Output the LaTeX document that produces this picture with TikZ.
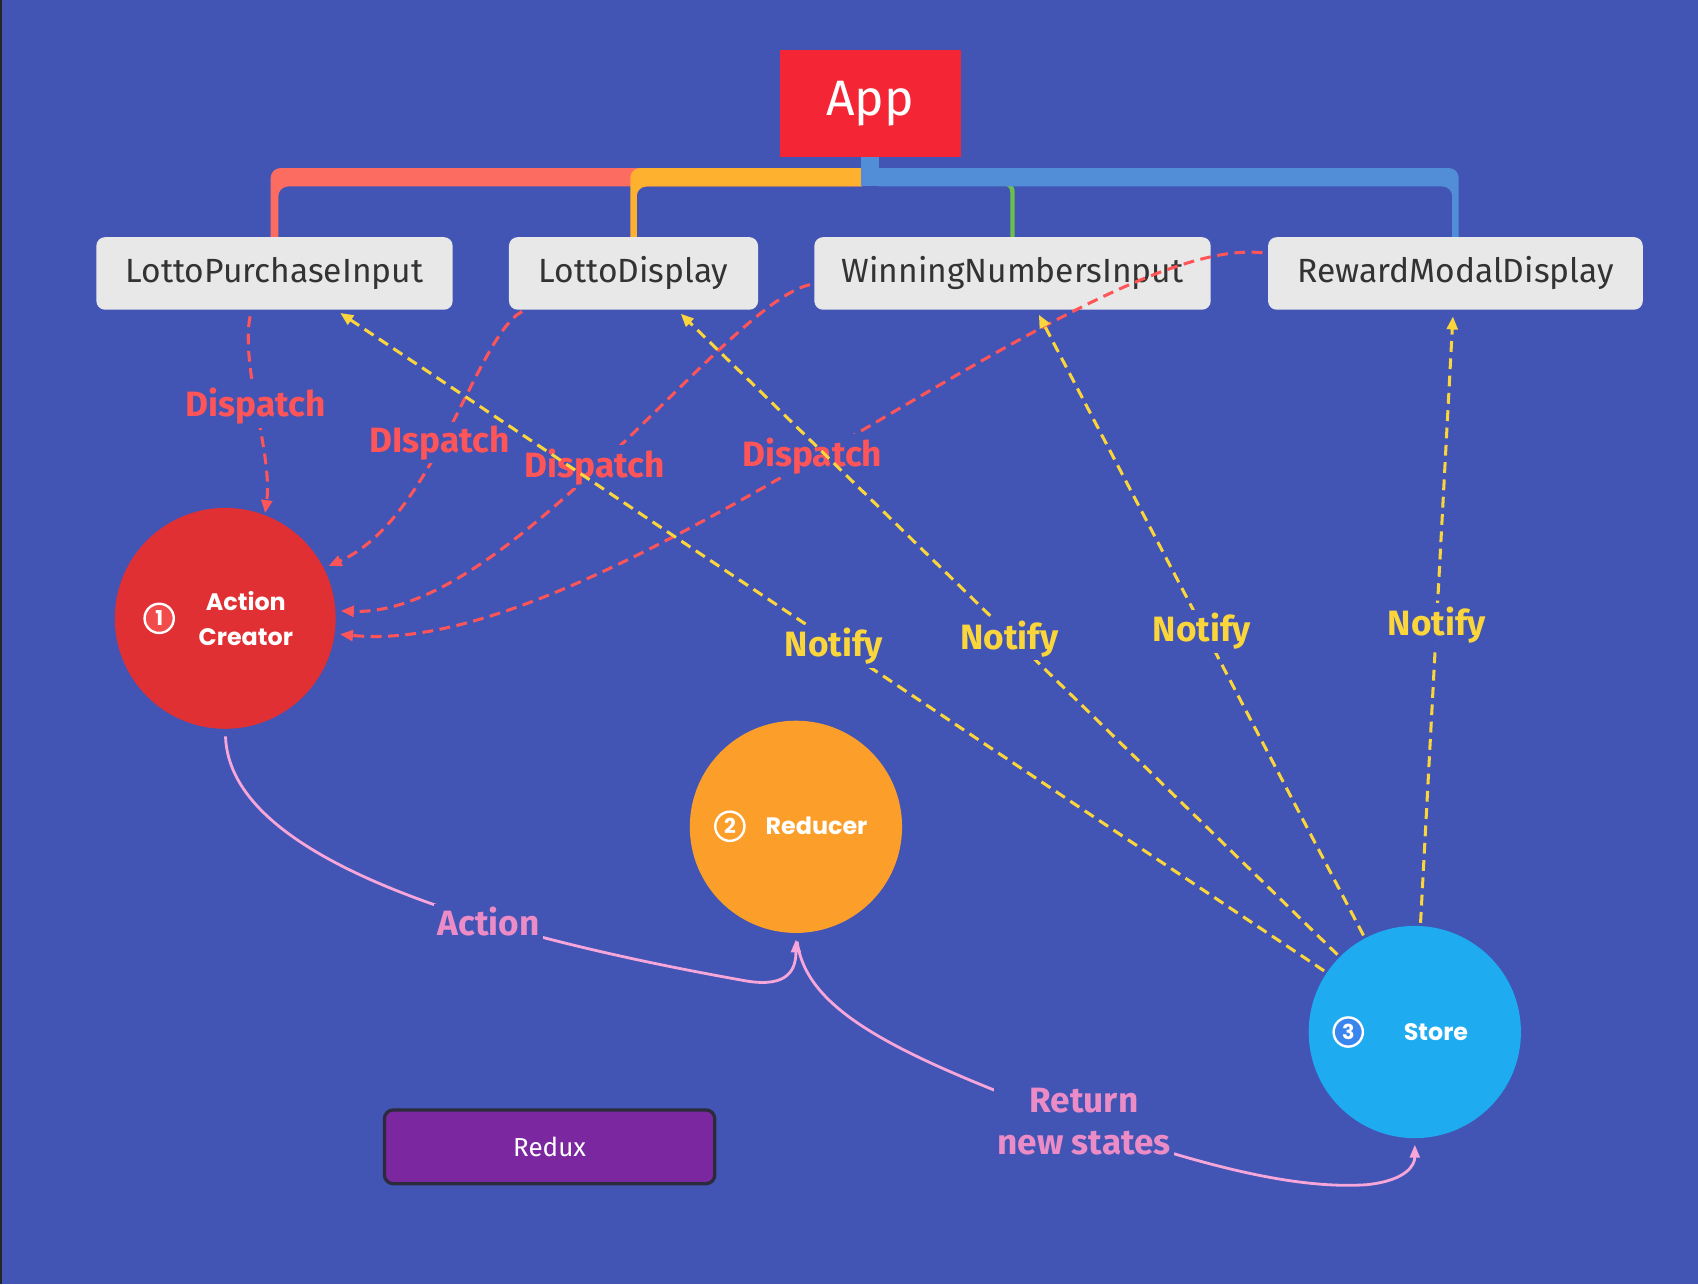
\documentclass[tikz,border=0pt]{standalone}
\usepackage{fontspec}
\setmainfont{Fira Sans}
\newfontfamily\circfont{Poppins}
\usetikzlibrary{arrows.meta,calc,backgrounds}

\definecolor{bgblue}{HTML}{4254B4}
\definecolor{appred}{HTML}{F42535}
\definecolor{brsalmon}{HTML}{FD6C60}
\definecolor{brorange}{HTML}{FDB12E}
\definecolor{brgreen}{HTML}{6BC04B}
\definecolor{brblue}{HTML}{528ED8}
\definecolor{boxgray}{HTML}{E8E8E8}
\definecolor{boxtext}{HTML}{333333}
\definecolor{acred}{HTML}{E13034}
\definecolor{acnum}{HTML}{F24B4B}
\definecolor{redorange}{HTML}{FC9F2A}
\definecolor{stblue}{HTML}{1EABF0}
\definecolor{stnum}{HTML}{3A86EF}
\definecolor{reduxpurple}{HTML}{7B28A0}
\definecolor{reduxedge}{HTML}{2B2B3C}
\definecolor{dispred}{HTML}{FF5558}
\definecolor{notifyyellow}{HTML}{FAD53C}
\definecolor{flowpink}{HTML}{F7A6DA}
\definecolor{flowtext}{HTML}{EC8CC6}

\tikzset{
  comp/.style={fill=boxgray, rounded corners=8pt, minimum height=67pt, text=boxtext, font=\fontsize{31}{36}\selectfont},
  stage/.style={circle, inner sep=0pt, outer sep=0pt},
  num/.style={circle, draw=white, line width=2.2pt, inner sep=0pt, minimum size=27pt, text=white, font=\circfont\bfseries\fontsize{19}{19}\selectfont},
  stagetext/.style={text=white, align=center, font=\circfont\bfseries\fontsize{22}{32}\selectfont},
  dispatch/.style={draw=dispred, line width=2.8pt, dash pattern=on 10pt off 6pt, -{Triangle[length=12pt,width=10pt]}},
  notify/.style={draw=notifyyellow, line width=2.8pt, dash pattern=on 10pt off 6pt, -{Triangle[length=12pt,width=10pt]}},
  flow/.style={draw=flowpink, line width=2.6pt, -{Triangle[length=12pt,width=9pt]}},
  lbl/.style={fill=bgblue, inner sep=3pt, font=\bfseries\fontsize{32.5}{38}\selectfont},
}

\begin{document}
\begin{tikzpicture}[x=1pt, y=-1pt]
    % App and components
    \node[fill=appred, minimum width=167pt, minimum height=99pt, text=white, font=\fontsize{46}{52}\selectfont] (app) at (803.5,95.5) {App};
    \node[comp, minimum width=329pt] (lpi) at (253.5,252.5) {LottoPurchaseInput};
    \node[comp, minimum width=230pt] (ld) at (585,252.5) {LottoDisplay};
    \node[comp, minimum width=366pt] (wni) at (935,252.5) {WinningNumbersInput};
    \node[comp, minimum width=346pt] (rmd) at (1344,252.5) {RewardModalDisplay};

    % background and branches
    \begin{scope}[on background layer]
        \fill[bgblue] (0,0) rectangle (1568,1186);
        \fill[black!85] (0,0) rectangle (2,1186);
        \fill[brsalmon, rounded corners=9pt] ($(lpi.north)+(-3.5,20)$) |- ($(app.south)+(0,10)$) -- ++(0,17) -| ($(lpi.north)+(3.5,20)$) -- cycle;
        \fill[brorange, rounded corners=9pt] ($(ld.north)+(-3,20)$) |- ($(app.south)+(0,10)$) -- ++(0,17) -| ($(ld.north)+(3,20)$) -- cycle;
        \draw[brgreen, line width=4pt, rounded corners=8pt] ($(wni.north)+(0,20)$) |- ($(app.south)+(0,24)$);
        \fill[brblue, rounded corners=9pt] ($(rmd.north)+(3,20)$) |- ($(app.south)+(0,10)$) -- ++(0,17) -| ($(rmd.north)+(-3,20)$) -- cycle;
        \fill[brblue] ($(app.south)+(-8.5,-10)$) rectangle ($(app.south)+(8.5,27)$);
    \end{scope}

    % Action Creator, Reducer, Store
    \node[stage, fill=acred, minimum size=204pt] (ac) at (208,571) {};
    \node[num, fill=acnum] (n1) at (147,571) {1};
    \node[stagetext] (actext) at (227,571) {Action\\Creator};
    \node[stage, fill=redorange, minimum size=196pt] (red) at (735,763.5) {};
    \node[num, fill=redorange] (n2) at (674,763) {2};
    \node[stagetext] (redtext) at (754,763) {Reducer};
    \node[stage, fill=stblue, minimum size=196pt] (st) at (1306.5,953) {};
    \node[num, fill=stnum] (n3) at (1245,953) {3};
    \node[stagetext] (sttext) at (1326,953) {Store};

    % Redux
    \node[fill=reduxpurple, draw=reduxedge, line width=3pt, rounded corners=8pt, minimum width=305pt, minimum height=68pt, text=white, font=\fontsize{24}{28}\selectfont] (redux) at (507.5,1059) {Redux};

    % Dispatch
    \draw[dispatch, shorten <=6pt, shorten >=2pt] ([xshift=-21.5pt]lpi.south) .. controls (222,340) and (252,420) .. (ac.69);
    \draw[dispatch, shorten <=3pt, shorten >=5pt] ([xshift=15pt]ld.south west) .. controls (440,310) and (400,480) .. (ac.27);
    \draw[dispatch, shorten <=4pt, shorten >=5pt] ([yshift=-9.5pt]wni.west) .. controls (670,280) and (470,570) .. (ac.4);
    \draw[dispatch, shorten <=5pt, shorten >=5pt] ([yshift=18.5pt]rmd.west) .. controls (1000,215) and (560,610) .. (ac.-8);
    \node[lbl, text=dispred] (d1) at (236,375) {Dispatch};
    \node[lbl, text=dispred] (d2) at (406,409) {DIspatch};
    \node[lbl, text=dispred] (d3) at (549,431) {Dispatch};
    \node[lbl, text=dispred] (d4) at (750,421) {Dispatch};

    % Notify
    \draw[notify, shorten <=3pt, shorten >=5pt] (st.146) -- ([xshift=56.5pt]lpi.south);
    \draw[notify, shorten <=3pt, shorten >=5pt] (st.135) -- ([xshift=40pt]ld.south);
    \draw[notify, shorten <=3pt, shorten >=5pt] (st.118) -- ([xshift=22pt]wni.south);
    \draw[notify, shorten <=3pt, shorten >=6pt] (st.87) -- ([xshift=-2pt]rmd.south);
    \node[lbl, text=notifyyellow] (y1) at (770,597) {Notify};
    \node[lbl, text=notifyyellow] (y2) at (932,590) {Notify};
    \node[lbl, text=notifyyellow] (y3) at (1110,583) {Notify};
    \node[lbl, text=notifyyellow] (y4) at (1327,577) {Notify};

    % Action and new states
    \draw[flow, shorten <=7pt, shorten >=6pt] (ac.south) .. controls (212,790) and (430,860) .. (690,906) .. controls (728,912) and (735,895) .. (red.south);
    \node[lbl, text=flowtext] (acttxt) at (451,851) {Action};
    \draw[flow, shorten <=8pt, shorten >=6pt] (red.south) .. controls (745,935) and (830,975) .. (1000,1038) .. controls (1120,1080) and (1200,1098) .. (1262,1094) .. controls (1300,1090) and (1306.5,1075) .. (st.south);
    \node[lbl, text=flowtext, align=center, font=\bfseries\fontsize{32.5}{39}\selectfont] (rettxt) at (1001,1036) {Return\\new states};
\end{tikzpicture}
\end{document}
